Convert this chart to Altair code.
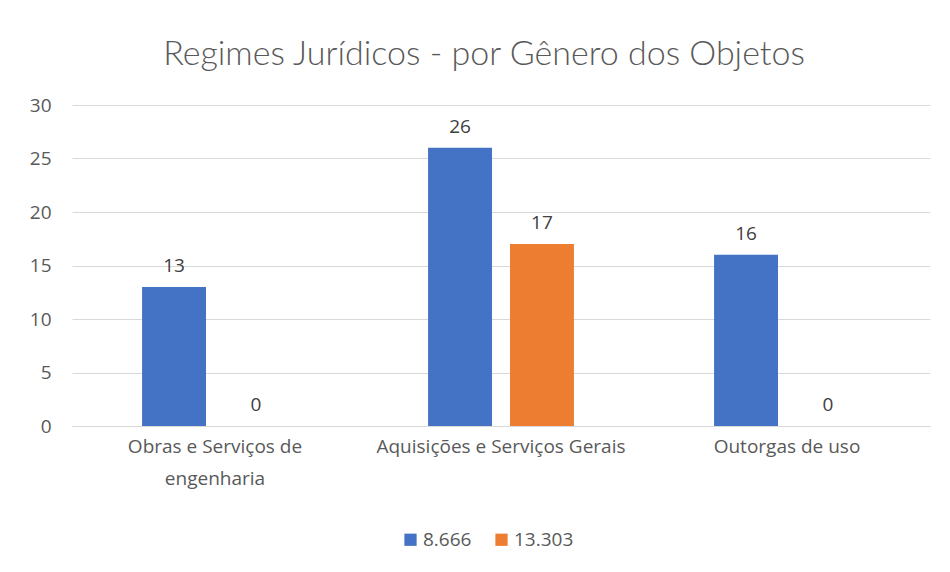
import altair as alt
import pandas as pd

categories = ["Obras e Serviços de engenharia", "Aquisições e Serviços Gerais", "Outorgas de uso"]
series = ["8.666", "13.303"]
values_8666 = [13, 26, 16]
values_13303 = [0, 17, 0]
colors = ["#4472C4", "#ED7D31"]

rows = []
for c, v in zip(categories, values_8666):
    rows.append({"cat": c, "serie": series[0], "val": v})
for c, v in zip(categories, values_13303):
    rows.append({"cat": c, "serie": series[1], "val": v})
df = pd.DataFrame(rows)

FONT = "Open Sans"
label_expr = ("datum.label == 'Obras e Serviços de engenharia' ? "
              "['Obras e Serviços de', 'engenharia'] : datum.label")

x = alt.X("cat:N", sort=categories, title=None,
          scale=alt.Scale(paddingInner=0.49, paddingOuter=0.245),
          axis=alt.Axis(labelAngle=0, labelExpr=label_expr, labelFontSize=19,
                        labelColor="#595959", labelFont=FONT, ticks=False,
                        domainColor="#d9d9d9", labelPadding=11, labelLineHeight=32,
                        labelLimit=400))
xo = alt.XOffset("serie:N", sort=series, scale=alt.Scale(paddingInner=0.22))
y = alt.Y("val:Q", title=None,
          scale=alt.Scale(domain=[0, 30]),
          axis=alt.Axis(values=[0, 5, 10, 15, 20, 25, 30], labelFontSize=19,
                        labelColor="#595959", labelFont=FONT, ticks=False,
                        domain=False, gridColor="#d9d9d9", labelPadding=21))
color = alt.Color("serie:N", sort=series,
                  scale=alt.Scale(domain=series, range=colors),
                  legend=alt.Legend(title=None, orient="none", direction="horizontal",
                                    legendX=329, legendY=425,
                                    symbolType="square", symbolSize=150,
                                    symbolStrokeWidth=0, labelFontSize=19,
                                    labelColor="#595959", labelFont=FONT,
                                    columnPadding=20, labelOffset=3))

base = alt.Chart(df).encode(x=x, xOffset=xo, y=y)
bars = base.mark_bar().encode(color=color)
text = base.mark_text(baseline="bottom", dy=-11, fontSize=19, color="#404040",
                      font=FONT).encode(text="val:Q")

chart = (bars + text).properties(
    width=858, height=321,
    title=alt.TitleParams("Regimes Jurídicos - por Gênero dos Objetos",
                          fontSize=34, font="Lato", fontWeight=300,
                          color="#595959", offset=24, anchor="middle", dx=-17),
    padding={"left": 21, "top": 30, "right": 5, "bottom": 5},
).configure(background="white").configure_view(strokeWidth=0)

chart.save("out.html", embed_options={"renderer": "svg", "actions": False})
